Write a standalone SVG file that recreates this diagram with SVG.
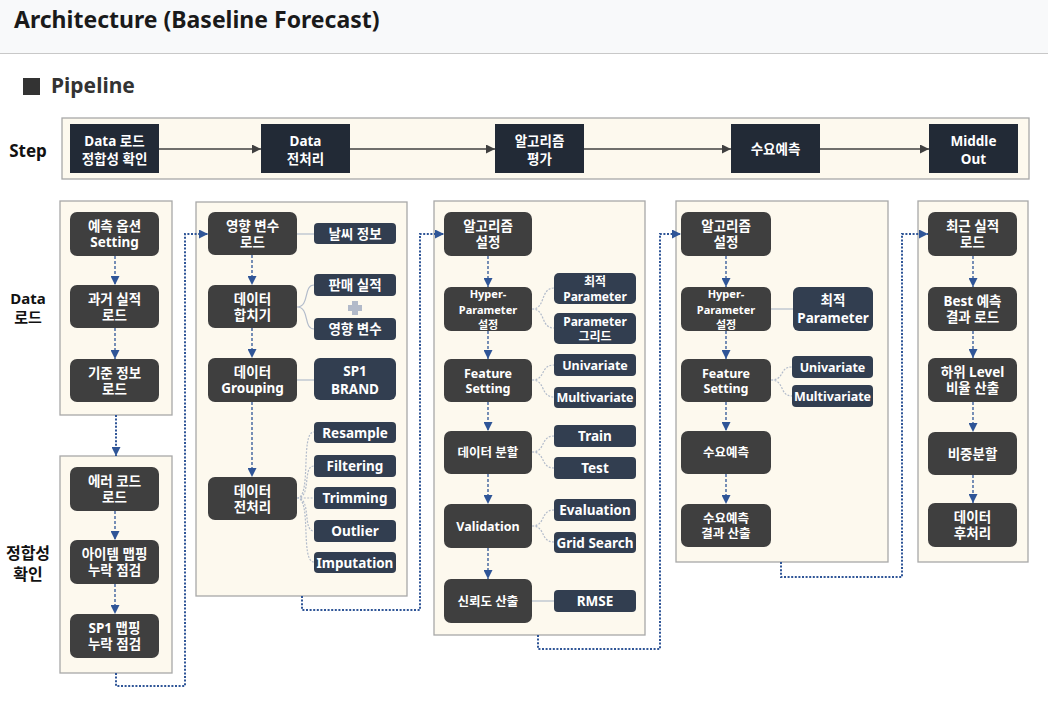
<svg xmlns="http://www.w3.org/2000/svg" width="1048" height="701" viewBox="0 0 1048 701">
<style>
.panel{fill:#fdf9ee;stroke:#a8a8a8;stroke-width:1.3}
.mb{fill:#3f3f3f}
.sb{fill:#323e50}
.st{fill:#222a36}
text{font-family:"Noto Sans","Noto Sans CJK KR",sans-serif;font-weight:700}
.t{fill:#fff;text-anchor:middle;dominant-baseline:central;font-size:13.5px}
.ts{font-size:12.5px}
.t3{font-size:12px}
.t4{font-size:11px}
.flow{stroke:#2f5597;stroke-width:1.3;stroke-dasharray:3 2;fill:none}
.link{stroke:#2f5597;stroke-width:2;stroke-dasharray:2 1.6;fill:none}
.gl{stroke:#b3bccb;stroke-width:1.2;fill:none}
.gd{stroke:#b3bccb;stroke-width:1.2;stroke-dasharray:2 1.4;fill:none}
.sa{stroke:#404040;stroke-width:1.3;fill:none}
.lab{fill:#111;text-anchor:middle;dominant-baseline:central}
</style>
<defs>
<marker id="ab" viewBox="0 0 10 10" refX="10" refY="5" markerWidth="9" markerHeight="9" markerUnits="userSpaceOnUse" orient="auto"><path d="M0,0L10,5L0,10z" fill="#2f5597"/></marker>
<marker id="ad" viewBox="0 0 10 10" refX="10" refY="5" markerWidth="9" markerHeight="9" markerUnits="userSpaceOnUse" orient="auto"><path d="M0,0L10,5L0,10z" fill="#404040"/></marker>
</defs>
<rect x="0" y="0" width="1048" height="701" fill="#ffffff"/>
<rect x="0" y="0" width="1048" height="53" fill="#f8f9fa"/>
<line x1="0" y1="53.5" x2="1048" y2="53.5" stroke="#c8c8c8" stroke-width="1"/>
<text x="14" y="28" font-size="23" fill="#1a1a1a">Architecture (Baseline Forecast)</text>
<rect x="23" y="78" width="17" height="17" fill="#333"/>
<text x="51" y="93" font-size="21" fill="#333">Pipeline</text>

<text class="lab" x="28" y="150" font-size="17">Step</text>
<text class="lab" x="28" y="298" font-size="15">Data</text>
<text class="lab" x="28" y="317" font-size="15" font-weight="400">로드</text>
<text class="lab" x="28" y="553" font-size="16" font-weight="400">정합성</text>
<text class="lab" x="28" y="574" font-size="16" font-weight="400">확인</text>

<!-- panels -->
<rect class="panel" x="62" y="118" width="967" height="61"/>
<rect class="panel" x="60" y="201" width="112" height="214"/>
<rect class="panel" x="60" y="456" width="112" height="217"/>
<rect class="panel" x="196" y="202" width="211" height="394"/>
<rect class="panel" x="434" y="201" width="211" height="434"/>
<rect class="panel" x="676" y="201" width="212" height="361"/>
<rect class="panel" x="918" y="201" width="110" height="361"/>

<g id="connectors">
<path class="sa" d="M159,149H261" marker-end="url(#ad)"/>
<path class="sa" d="M350,149H495" marker-end="url(#ad)"/>
<path class="sa" d="M584,149H731" marker-end="url(#ad)"/>
<path class="sa" d="M820,149H929" marker-end="url(#ad)"/>
<path class="link" d="M116,415V456" stroke-width="1.4" marker-end="url(#ab)"/>
<path class="link" d="M116,673V686H185V234H208" marker-end="url(#ab)"/>
<path class="link" d="M302,596V610H420V234H444" marker-end="url(#ab)"/>
<path class="link" d="M538,635V649H660V234H681" marker-end="url(#ab)"/>
<path class="link" d="M781,562V577H902V234H928" marker-end="url(#ab)"/>
<path class="flow" d="M115,256V285" marker-end="url(#ab)"/>
<path class="flow" d="M115,328V359" marker-end="url(#ab)"/>
<path class="flow" d="M115,511V540" marker-end="url(#ab)"/>
<path class="flow" d="M115,584V614" marker-end="url(#ab)"/>
<path class="flow" d="M252,255V285" marker-end="url(#ab)"/>
<path class="flow" d="M252,328V358" marker-end="url(#ab)"/>
<path class="flow" d="M252,402V477" marker-end="url(#ab)"/>
<path class="gl" d="M297,234H314"/>
<path class="gl" d="M297,380H314"/>
<path class="gl" d="M297,307C310,307 303,285 314,285M297,307C310,307 303,329 314,329"/>
<path class="gd" d="M297,498C312,498 300,432 314,432M297,498C312,498 302,466 314,466M297,498H314M297,498C312,498 302,531 314,531M297,498C312,498 300,562 314,562"/>
<path class="flow" d="M488,256V287" marker-end="url(#ab)"/>
<path class="flow" d="M488,331V359" marker-end="url(#ab)"/>
<path class="flow" d="M488,402V431" marker-end="url(#ab)"/>
<path class="flow" d="M488,474V504" marker-end="url(#ab)"/>
<path class="flow" d="M488,548V579" marker-end="url(#ab)"/>
<path class="gd" d="M532,309C546,309 540,288 554,288M532,309C546,309 540,328 554,328"/>
<path class="gd" d="M532,380C546,380 540,365 554,365M532,380C546,380 540,397 554,397"/>
<path class="gd" d="M532,452C546,452 540,436 554,436M532,452C546,452 540,468 554,468"/>
<path class="gd" d="M532,526C546,526 540,510 554,510M532,526C546,526 540,542 554,542"/>
<path class="gl" d="M532,601H554"/>
<path class="flow" d="M726,256V287" marker-end="url(#ab)"/>
<path class="flow" d="M726,331V359" marker-end="url(#ab)"/>
<path class="flow" d="M726,402V431" marker-end="url(#ab)"/>
<path class="flow" d="M726,474V504" marker-end="url(#ab)"/>
<path class="gl" d="M771,309H793"/>
<path class="gd" d="M771,380C785,380 779,367 792,367M771,380C785,380 779,396 792,396"/>
<path class="flow" d="M973,256V287" marker-end="url(#ab)"/>
<path class="flow" d="M973,331V358" marker-end="url(#ab)"/>
<path class="flow" d="M973,402V432" marker-end="url(#ab)"/>
<path class="flow" d="M973,475V503" marker-end="url(#ab)"/>
</g>

<g id="step1"><rect class="st" x="70" y="124" width="89" height="49"/><text class="t" x="114.5" y="140.5" font-size="14.5">Data 로드</text><text class="t" x="114.5" y="158.5" font-size="14.5">정합성 확인</text></g>
<g id="step2"><rect class="st" x="261" y="124" width="89" height="49"/><text class="t" x="305.5" y="140.5" font-size="14.5">Data</text><text class="t" x="305.5" y="158.5" font-size="14.5">전처리</text></g>
<g id="step3"><rect class="st" x="495" y="124" width="89" height="49"/><text class="t" x="539.5" y="140.5" font-size="14.5">알고리즘</text><text class="t" x="539.5" y="158.5" font-size="14.5">평가</text></g>
<g id="step4"><rect class="st" x="731" y="124" width="89" height="49"/><text class="t" x="775.5" y="149" font-size="14.5">수요예측</text></g>
<g id="step5"><rect class="st" x="929" y="124" width="89" height="49"/><text class="t" x="973.5" y="140.5" font-size="14.5">Middle</text><text class="t" x="973.5" y="158.5" font-size="14.5">Out</text></g>

<g id="p1a"><rect class="mb" x="70" y="212" width="89" height="44" rx="7"/><text class="t" x="114.5" y="226">예측 옵션</text><text class="t" x="114.5" y="242">Setting</text></g>
<g id="p1b"><rect class="mb" x="70" y="285" width="89" height="43" rx="7"/><text class="t" x="114.5" y="299">과거 실적</text><text class="t" x="114.5" y="315">로드</text></g>
<g id="p1c"><rect class="mb" x="70" y="359" width="89" height="43" rx="7"/><text class="t" x="114.5" y="373">기준 정보</text><text class="t" x="114.5" y="389">로드</text></g>
<g id="p2a"><rect class="mb" x="70" y="467" width="89" height="44" rx="7"/><text class="t" x="114.5" y="481">에러 코드</text><text class="t" x="114.5" y="497">로드</text></g>
<g id="p2b"><rect class="mb" x="70" y="540" width="89" height="44" rx="7"/><text class="t" x="114.5" y="554">아이템 맵핑</text><text class="t" x="114.5" y="570">누락 점검</text></g>
<g id="p2c"><rect class="mb" x="70" y="614" width="89" height="44" rx="7"/><text class="t" x="114.5" y="628">SP1 맵핑</text><text class="t" x="114.5" y="644">누락 점검</text></g>
<g id="p3a"><rect class="mb" x="208" y="212" width="89" height="43" rx="7"/><text class="t" x="252.5" y="226">영향 변수</text><text class="t" x="252.5" y="242">로드</text></g>
<g id="p3b"><rect class="mb" x="208" y="285" width="89" height="43" rx="7"/><text class="t" x="252.5" y="299">데이터</text><text class="t" x="252.5" y="315">합치기</text></g>
<g id="p3c"><rect class="mb" x="208" y="358" width="89" height="44" rx="7"/><text class="t" x="252.5" y="372">데이터</text><text class="t" x="252.5" y="388">Grouping</text></g>
<g id="p3d"><rect class="mb" x="208" y="477" width="89" height="43" rx="7"/><text class="t" x="252.5" y="491">데이터</text><text class="t" x="252.5" y="507">전처리</text></g>
<g id="p3s1"><rect class="sb" x="314" y="223" width="82" height="21" rx="4"/><text class="t" x="355" y="233.5">날씨 정보</text></g>
<g id="p3s2"><rect class="sb" x="314" y="274" width="82" height="22" rx="4"/><text class="t" x="355" y="285">판매 실적</text></g>
<g id="plus"><path d="M352,301h6v4h4v6h-4v4h-6v-4h-4v-6h4z" fill="#b2bac9"/></g>
<g id="p3s3"><rect class="sb" x="314" y="318" width="82" height="22" rx="4"/><text class="t" x="355" y="329">영향 변수</text></g>
<g id="p3s4"><rect class="sb" x="314" y="358" width="82" height="42" rx="6"/><text class="t" x="355" y="371" font-size="14.5">SP1</text><text class="t" x="355" y="389" font-size="14.5">BRAND</text></g>
<g id="p3s5"><rect class="sb" x="314" y="422" width="82" height="21" rx="4"/><text class="t" x="355" y="432.5">Resample</text></g>
<g id="p3s6"><rect class="sb" x="314" y="455" width="82" height="22" rx="4"/><text class="t" x="355" y="466">Filtering</text></g>
<g id="p3s7"><rect class="sb" x="314" y="487" width="82" height="22" rx="4"/><text class="t" x="355" y="498">Trimming</text></g>
<g id="p3s8"><rect class="sb" x="314" y="520" width="82" height="22" rx="4"/><text class="t" x="355" y="531">Outlier</text></g>
<g id="p3s9"><rect class="sb" x="314" y="552" width="82" height="21" rx="4"/><text class="t" x="355" y="562.5">Imputation</text></g>
<g id="p4a"><rect class="mb" x="444" y="212" width="88" height="44" rx="7"/><text class="t" x="488" y="226">알고리즘</text><text class="t" x="488" y="242">설정</text></g>
<g id="p4b"><rect class="mb" x="444" y="287" width="88" height="44" rx="7"/><text class="t t4" x="488" y="293.5">Hyper-</text><text class="t t4" x="488" y="309">Parameter</text><text class="t t4" x="488" y="324.5">설정</text></g>
<g id="p4c"><rect class="mb" x="444" y="359" width="88" height="43" rx="7"/><text class="t ts" x="488" y="373">Feature</text><text class="t ts" x="488" y="388">Setting</text></g>
<g id="p4d"><rect class="mb" x="444" y="431" width="88" height="43" rx="7"/><text class="t ts" x="488" y="452.5">데이터 분할</text></g>
<g id="p4e"><rect class="mb" x="444" y="504" width="88" height="44" rx="7"/><text class="t ts" x="488" y="526">Validation</text></g>
<g id="p4f"><rect class="mb" x="444" y="579" width="88" height="44" rx="7"/><text class="t ts" x="488" y="601">신뢰도 산출</text></g>
<g id="p4s1"><rect class="sb" x="554" y="273" width="82" height="31" rx="5"/><text class="t t3" x="595" y="281">최적</text><text class="t t3" x="595" y="296">Parameter</text></g>
<g id="p4s2"><rect class="sb" x="554" y="313" width="82" height="31" rx="5"/><text class="t t3" x="595" y="321">Parameter</text><text class="t t3" x="595" y="336">그리드</text></g>
<g id="p4s3"><rect class="sb" x="554" y="354" width="82" height="22" rx="4"/><text class="t ts" x="595" y="365">Univariate</text></g>
<g id="p4s4"><rect class="sb" x="554" y="387" width="82" height="21" rx="4"/><text class="t ts" x="595" y="397.5">Multivariate</text></g>
<g id="p4s5"><rect class="sb" x="554" y="425" width="82" height="22" rx="4"/><text class="t" x="595" y="436">Train</text></g>
<g id="p4s6"><rect class="sb" x="554" y="457" width="82" height="22" rx="4"/><text class="t" x="595" y="468">Test</text></g>
<g id="p4s7"><rect class="sb" x="554" y="499" width="82" height="22" rx="4"/><text class="t" x="595" y="510">Evaluation</text></g>
<g id="p4s8"><rect class="sb" x="554" y="532" width="82" height="21" rx="4"/><text class="t" x="595" y="542.5">Grid Search</text></g>
<g id="p4s9"><rect class="sb" x="554" y="590" width="82" height="22" rx="4"/><text class="t" x="595" y="601">RMSE</text></g>
<g id="p5a"><rect class="mb" x="681" y="212" width="90" height="44" rx="7"/><text class="t" x="726" y="226">알고리즘</text><text class="t" x="726" y="242">설정</text></g>
<g id="p5b"><rect class="mb" x="681" y="287" width="90" height="44" rx="7"/><text class="t t4" x="726" y="293.5">Hyper-</text><text class="t t4" x="726" y="309">Parameter</text><text class="t t4" x="726" y="324.5">설정</text></g>
<g id="p5c"><rect class="mb" x="681" y="359" width="90" height="43" rx="7"/><text class="t ts" x="726" y="373">Feature</text><text class="t ts" x="726" y="388">Setting</text></g>
<g id="p5d"><rect class="mb" x="681" y="431" width="90" height="43" rx="7"/><text class="t ts" x="726" y="452.5">수요예측</text></g>
<g id="p5e"><rect class="mb" x="681" y="504" width="90" height="43" rx="7"/><text class="t ts" x="726" y="518">수요예측</text><text class="t ts" x="726" y="533">결과 산출</text></g>
<g id="p5s1"><rect class="sb" x="793" y="287" width="80" height="44" rx="6"/><text class="t" x="833" y="300" font-size="14.5">최적</text><text class="t" x="833" y="318" font-size="14.5">Parameter</text></g>
<g id="p5s2"><rect class="sb" x="792" y="356" width="81" height="22" rx="4"/><text class="t ts" x="832.5" y="367">Univariate</text></g>
<g id="p5s3"><rect class="sb" x="792" y="385" width="81" height="22" rx="4"/><text class="t ts" x="832.5" y="396">Multivariate</text></g>
<g id="p6a"><rect class="mb" x="928" y="212" width="89" height="44" rx="7"/><text class="t" x="972.5" y="226">최근 실적</text><text class="t" x="972.5" y="242">로드</text></g>
<g id="p6b"><rect class="mb" x="928" y="287" width="89" height="44" rx="7"/><text class="t" x="972.5" y="301">Best 예측</text><text class="t" x="972.5" y="317">결과 로드</text></g>
<g id="p6c"><rect class="mb" x="928" y="358" width="89" height="44" rx="7"/><text class="t" x="972.5" y="372">하위 Level</text><text class="t" x="972.5" y="388">비율 산출</text></g>
<g id="p6d"><rect class="mb" x="928" y="432" width="89" height="43" rx="7"/><text class="t" x="972.5" y="453.5">비중분할</text></g>
<g id="p6e"><rect class="mb" x="928" y="503" width="89" height="44" rx="7"/><text class="t" x="972.5" y="517">데이터</text><text class="t" x="972.5" y="533">후처리</text></g>
</svg>
